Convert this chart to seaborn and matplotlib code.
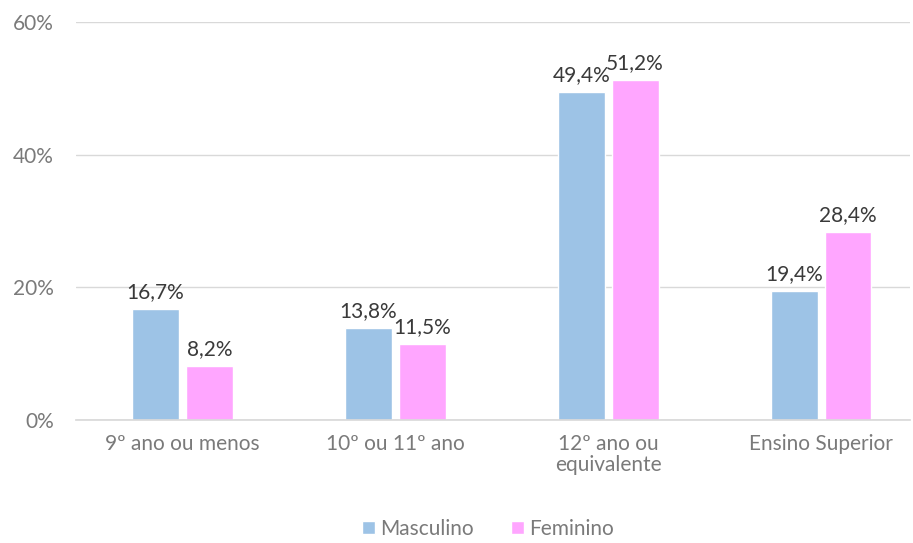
import matplotlib
matplotlib.use("Agg")
import matplotlib.pyplot as plt
import seaborn as sns
import pandas as pd
from matplotlib.ticker import FuncFormatter

categories = ["9º ano ou menos", "10º ou 11º ano", "12º ano ou\nequivalente", "Ensino Superior"]
series_names = ["Masculino", "Feminino"]
masculino = [16.7, 13.8, 49.4, 19.4]
feminino = [8.2, 11.5, 51.2, 28.4]
y_ticks = [0, 20, 40, 60]

colors = ["#9DC3E6", "#FFA6FF"]

df = pd.DataFrame({
    "categoria": categories * 2,
    "sexo": [series_names[0]] * 4 + [series_names[1]] * 4,
    "valor": masculino + feminino,
})

sns.set_theme(style="white")
plt.rcParams["font.family"] = ["Lato", "DejaVu Sans"]

fig = plt.figure(figsize=(9.13, 5.43), dpi=100)
ax = fig.add_axes([76 / 913, 1 - 420 / 543, (910 - 76) / 913, (420 - 22) / 543])

sns.barplot(data=df, x="categoria", y="valor", hue="sexo", order=categories,
            hue_order=series_names, palette=colors, width=0.507, gap=0.13,
            saturation=1, ax=ax, legend=True)

ax.set_ylim(0, 60)
ax.set_xlim(-0.5, 3.418)
ax.set_yticks(y_ticks)
ax.yaxis.set_major_formatter(FuncFormatter(lambda v, p: f"{v:.0f}%"))
ax.grid(axis="y", color="#D9D9D9", linewidth=1)
ax.set_axisbelow(True)
for s in ["top", "right", "left"]:
    ax.spines[s].set_visible(False)
ax.spines["bottom"].set_color("#D9D9D9")
ax.set_xlabel("")
ax.set_ylabel("")
ax.tick_params(axis="both", length=0, colors="#7A7A7A", labelsize=15)
ax.tick_params(axis="x", pad=10)
ax.tick_params(axis="y", pad=16)
for lbl in ax.get_xticklabels():
    lbl.set_linespacing(1.05)

for cont in ax.containers:
    ax.bar_label(cont, labels=[f"{v:.1f}".replace(".", ",") + "%" for v in cont.datavalues],
                 padding=5, fontsize=15, color="#3A3A3A")

leg = ax.legend(loc="center", bbox_to_anchor=((488 - 76) / (910 - 76), -(529 - 420) / 398),
                ncol=2, frameon=False, fontsize=15, handlelength=0.6, handleheight=0.6,
                handletextpad=0.25, columnspacing=1.8, borderpad=0.1)
for t in leg.get_texts():
    t.set_color("#7A7A7A")

fig.savefig("out.png", dpi=100)
